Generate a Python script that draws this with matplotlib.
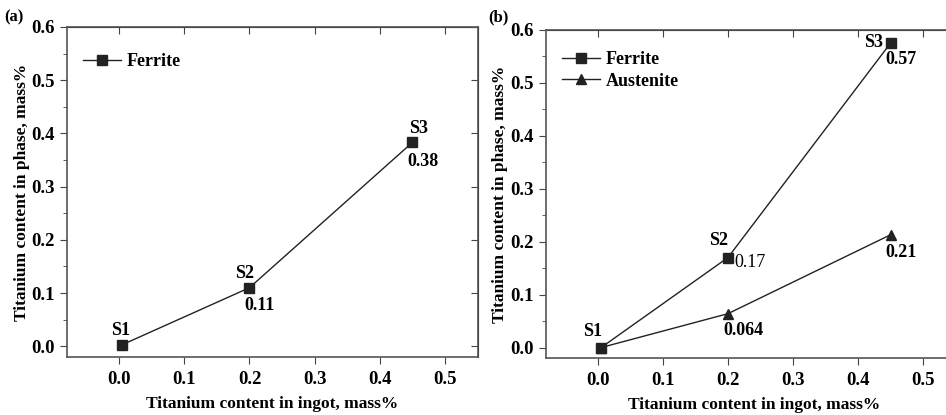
import matplotlib.pyplot as plt
from matplotlib.ticker import MultipleLocator

plt.rcParams['font.family'] = ['Liberation Serif', 'DejaVu Serif']
plt.rcParams['font.weight'] = 'bold'

# Data
ingot_ti = [0.005, 0.2, 0.45]
sample_names = ['S1', 'S2', 'S3']
ferrite_a = [0.003, 0.11, 0.383]
ferrite_b = [0.0, 0.17, 0.575]
austenite_b = [0.0, 0.064, 0.213]

fig = plt.figure(figsize=(9.46, 4.15), dpi=100)
ax1 = fig.add_axes([0.0708, 0.140, 0.434, 0.795])
ax2 = fig.add_axes([0.577, 0.137, 0.440, 0.791])
ax1.set_xlim(-0.08, 0.55)
ax2.set_xlim(-0.08, 0.56)

xt = [0.0, 0.1, 0.2, 0.3, 0.4, 0.5]
yt = [0.0, 0.1, 0.2, 0.3, 0.4, 0.5, 0.6]

for ax in (ax1, ax2):
    ax.set_ylim(-0.02, 0.6)
    ax.set_xticks(xt)
    ax.set_xticklabels([f'{v:.1f}' for v in xt])
    ax.set_yticks(yt)
    ax.set_yticklabels([f'{v:.1f}' for v in yt])
    ax.yaxis.set_minor_locator(MultipleLocator(0.05))
    ax.tick_params(which='both', direction='out', labelsize=13.5, color='#444444')
    ax.tick_params(axis='x', which='major', length=5, pad=5)
    ax.tick_params(axis='y', which='major', length=5, pad=4)
    ax.tick_params(which='minor', length=3)
    for s in ax.spines.values():
        s.set_color('#555555')
        s.set_linewidth(1.2)
    # mirrored ticks on top / right pointing inward
    top = ax.secondary_xaxis('top')
    top.set_xticks(xt)
    top.tick_params(direction='in', length=5, labeltop=False, color='#444444')
    right = ax.secondary_yaxis('right')
    right.set_yticks(yt)
    right.tick_params(direction='in', length=5, labelright=False, color='#444444')
    ax.set_xlabel('Titanium content in ingot, mass%', fontsize=12.5, fontweight='bold', labelpad=6)
    ax.set_ylabel('Titanium content in phase, mass%', fontsize=12.5, fontweight='bold', labelpad=1)

line_kw = dict(color='#222222', linewidth=1.0, markersize=6.5)
txt_kw = dict(textcoords='offset points', ha='center', va='center', fontsize=13)

# (a)
ax1.plot(ingot_ti, ferrite_a, marker='s', label='Ferrite', **line_kw)
ax1.legend(loc='upper left', frameon=False, fontsize=13, handlelength=2.1,
           handletextpad=0.3, bbox_to_anchor=(0.0, 0.97), borderaxespad=0.5)
ax1.annotate(sample_names[0], (ingot_ti[0], ferrite_a[0]), xytext=(-1.5, 10), **txt_kw)
ax1.annotate(sample_names[1], (ingot_ti[1], ferrite_a[1]), xytext=(-3.5, 10), **txt_kw)
ax1.annotate(sample_names[2], (ingot_ti[2], ferrite_a[2]), xytext=(4.5, 10), **txt_kw)
ax1.annotate(f'{ferrite_a[1]:.2f}', (ingot_ti[1], ferrite_a[1]), xytext=(7.5, -13), **txt_kw)
ax1.annotate(f'{ferrite_a[2]:.2f}', (ingot_ti[2], ferrite_a[2]), xytext=(8, -13.5), **txt_kw)
fig.text(0.005, 0.957, '(a)', fontsize=12, fontweight='bold', va='center')

# (b)
ax2.plot(ingot_ti, ferrite_b, marker='s', label='Ferrite', **line_kw)
ax2.plot(ingot_ti, austenite_b, marker='^', label='Austenite', **line_kw)
ax2.legend(loc='upper left', frameon=False, fontsize=13, handlelength=2.1,
           handletextpad=0.3, bbox_to_anchor=(0.0, 0.985), borderaxespad=0.5,
           labelspacing=0.25)
ax2.annotate(sample_names[0], (ingot_ti[0], ferrite_b[0]), xytext=(-6.5, 11.5), **txt_kw)
ax2.annotate(sample_names[1], (ingot_ti[1], ferrite_b[1]), xytext=(-6.5, 12), **txt_kw)
ax2.annotate(sample_names[2], (ingot_ti[2], ferrite_b[2]), xytext=(-12, 0.5), **txt_kw)
ax2.annotate(f'{ferrite_b[2]:.2f}', (ingot_ti[2], ferrite_b[2]), xytext=(7.5, -12), **txt_kw)
ax2.annotate(f'{ferrite_b[1]:.2f}', (ingot_ti[1], ferrite_b[1]), xytext=(16, -3.5),
             fontweight='normal', **txt_kw)
ax2.annotate(f'{austenite_b[1]:.3f}', (ingot_ti[1], austenite_b[1]), xytext=(11.5, -12), **txt_kw)
ax2.annotate(f'{austenite_b[2]:.2f}', (ingot_ti[2], austenite_b[2]), xytext=(7.5, -13), **txt_kw)
fig.text(0.516, 0.957, '(b)', fontsize=12, fontweight='bold', va='center')

fig.savefig('out.png', dpi=100)
